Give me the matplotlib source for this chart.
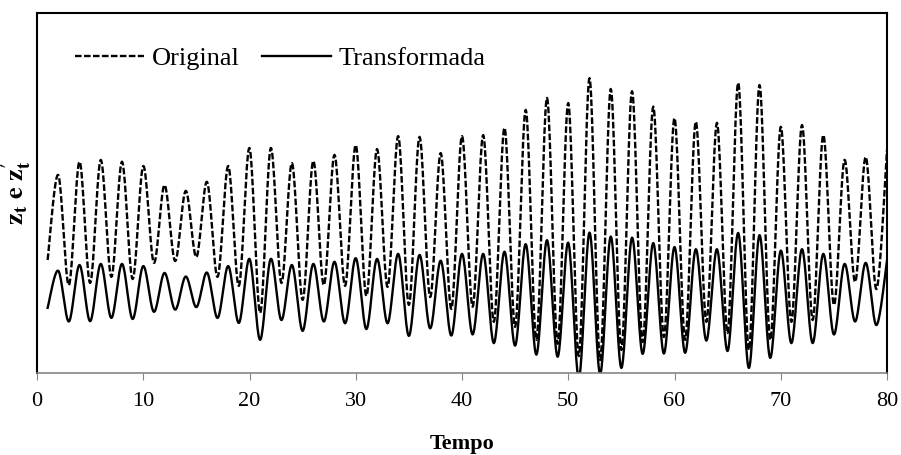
import numpy as np
import matplotlib
matplotlib.use("Agg")
import matplotlib.pyplot as plt

plt.rcParams['font.family'] = ['Liberation Serif', 'DejaVu Serif']
plt.rcParams['mathtext.fontset'] = 'stix'

tempo = np.arange(1, 81)

original = [31.4, 55.0, 24.4, 58.7, 25.0, 59.2, 26.7, 58.7, 26.1, 57.5,
            30.6, 52.2, 31.1, 50.6, 32.2, 53.1, 26.7, 57.5, 24.2, 62.5,
            16.7, 62.5, 25.0, 58.3, 20.3, 58.9, 24.4, 60.6, 24.2, 63.3,
            21.4, 62.2, 23.9, 65.8, 18.9, 65.6, 21.1, 61.1, 17.8, 65.8,
            18.4, 66.1, 14.2, 68.1, 12.8, 73.1, 9.2, 76.4, 8.1, 75.0,
            4.7, 81.9, 3.6, 78.9, 6.4, 78.3, 8.6, 74.0, 10.0, 70.8,
            9.2, 69.8, 14.2, 69.5, 11.1, 80.6, 6.4, 80.0, 9.2, 68.4,
            14.2, 68.9, 14.7, 66.1, 18.9, 59.2, 25.3, 60.0, 23.3, 61.9]

transformada = [18.1, 28.4, 14.3, 30.0, 14.4, 30.3, 15.3, 30.3, 15.0, 29.7,
                17.0, 27.8, 17.6, 26.8, 18.3, 27.9, 15.3, 29.7, 13.9, 31.7,
                9.2, 31.7, 14.7, 30.0, 11.7, 30.3, 14.3, 30.9, 13.8, 31.9,
                12.2, 31.7, 13.8, 33.1, 10.3, 32.8, 12.4, 31.2, 10.4, 33.1,
                10.7, 33.1, 8.3, 33.7, 7.6, 35.8, 5.1, 36.9, 4.5, 36.2,
                -1.4, 39.0, -0.3, 37.9, 1.4, 37.6, 5.3, 36.1, 5.4, 35.0,
                5.6, 34.4, 9.0, 34.4, 6.1, 38.9, 1.4, 38.3, 4.2, 34.0,
                8.3, 34.4, 8.3, 33.1, 10.7, 30.3, 14.3, 30.6, 13.3, 31.2]


def smooth(x, y, n=20):
    # Catmull-Rom spline, like Excel's "smoothed line"
    x = np.asarray(x, float)
    y = np.asarray(y, float)
    xp = np.concatenate([[x[0]], x, [x[-1]]])
    yp = np.concatenate([[y[0]], y, [y[-1]]])
    s = np.linspace(0, 1, n, endpoint=False)
    xs, ys = [], []
    for i in range(1, len(xp) - 2):
        for arr, out in ((xp, xs), (yp, ys)):
            p0, p1, p2, p3 = arr[i - 1], arr[i], arr[i + 1], arr[i + 2]
            out.append(0.5 * (2 * p1 + (p2 - p0) * s
                              + (2 * p0 - 5 * p1 + 4 * p2 - p3) * s**2
                              + (3 * p1 - p0 - 3 * p2 + p3) * s**3))
    xs.append([x[-1]])
    ys.append([y[-1]])
    return np.concatenate(xs), np.concatenate(ys)


fig = plt.figure(figsize=(9.01, 4.55), dpi=100)
ax = fig.add_axes([37/901, 82/455, 850/901, 360/455])

xo, yo = smooth(tempo, original)
xt, yt = smooth(tempo, transformada)
ax.plot(xo, yo, color='black', lw=1.7, linestyle=(0, (2.8, 1)), label='Original')
ax.plot(xt, yt, color='black', lw=1.7, label='Transformada')

ax.set_xlim(0, 80)
ax.set_ylim(0, 100)
ax.set_xticks(np.arange(0, 81, 10))
ax.set_yticks([])
ax.tick_params(axis='x', direction='out', length=5, color='#868686',
               labelsize=16, pad=9)

for side in ['top', 'left', 'right']:
    ax.spines[side].set_color('black')
    ax.spines[side].set_linewidth(1.5)
ax.spines['bottom'].set_color('#868686')
ax.spines['bottom'].set_linewidth(1.2)

ax.set_xlabel('Tempo', fontsize=16, fontweight='bold', labelpad=16)
ax.set_ylabel(r"$\mathbf{z_t}$ $\mathbf{e}$ $\mathbf{z_t'}$",
              fontsize=19, labelpad=2)

ax.legend(loc='center left', bbox_to_anchor=(0.017, 0.875), ncol=2,
          frameon=False, fontsize=19, handlelength=2.6, handletextpad=0.3,
          columnspacing=0.85)

fig.savefig('out.png', dpi=100)
